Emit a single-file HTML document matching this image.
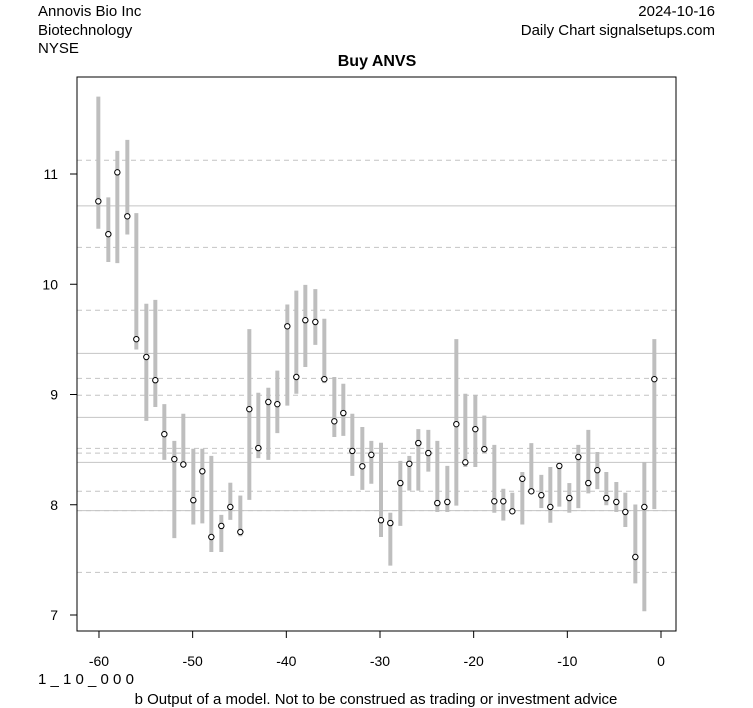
<!DOCTYPE html>
<html><head><meta charset="utf-8"><style>
body{margin:0;background:#fff;}
svg{display:block;font-family:"Liberation Sans",Arial,sans-serif;}
</style></head><body>
<svg id="s" width="753" height="708" viewBox="0 0 753 708" xmlns="http://www.w3.org/2000/svg">
<rect width="753" height="708" fill="#fff"/>
<g font-size="15" fill="#000">
<text x="38" y="16">Annovis Bio Inc</text>
<text x="38" y="35">Biotechnology</text>
<text x="38" y="53">NYSE</text>
<text x="715" y="16" text-anchor="end">2024-10-16</text>
<text x="715" y="35" text-anchor="end">Daily Chart signalsetups.com</text>
<text x="377" y="66" text-anchor="middle" font-weight="bold" font-size="16">Buy ANVS</text>
<text x="38" y="684">1 _ 1 0 _ 0 0 0</text>
<text x="376" y="704" text-anchor="middle">b Output of a model. Not to be construed as trading or investment advice</text>
</g>
<g id="grid"></g>
<g id="bars"></g>
<g id="pts"></g>
<rect x="77" y="77" width="599" height="554" fill="none" stroke="#000" stroke-width="1"/>
<g id="axes" font-size="14"></g>
</svg>
<script>
const NS="http://www.w3.org/2000/svg";
function el(p,t,a,txt){const e=document.createElementNS(NS,t);for(const k in a)e.setAttribute(k,a[k]);if(txt!==undefined)e.textContent=txt;document.getElementById(p).appendChild(e);}
const Y=z=>77+z/2.8;
const dashed=[233,477,653,844,891,1040,1053,1160,1214,1387];
const solid=[361,774,953,1079,1214];
dashed.forEach(z=>el("grid","line",{x1:77,x2:676,y1:Y(z),y2:Y(z),stroke:"#c4c4c4","stroke-dasharray":"5,4"}));
solid.forEach(z=>el("grid","line",{x1:77,x2:676,y1:Y(z),y2:Y(z),stroke:"#c4c4c4"}));
const d1=[[64,348,55,425],[94,440,337,518],[121,267,207,521],[151,390,176,441],[178,734,381,763],[208,784,635,963],[235,849,624,924],[262,1000,916,1072],[292,1070,1019,1291],[319,1085,943,1085],[349,1185,1041,1253],[376,1104,1041,1250],[403,1288,1061,1330],[433,1257,1226,1330],[460,1204,1136,1240],[490,1274,1172,1286],[517,930,706,1184],[544,1039,884,1067],[574,910,870,1072],[601,916,822,997],[631,698,637,920],[658,840,598,887],[685,681,582,812],[715,686,594,750],[742,846,677,857],[772,964,840,1008],[799,941,859,1005],[826,1047,943,1117],[856,1090,980,1156],[883,1058,1019,1139]];
const d2=[[33,1241,1024,1288],[61,1249,1220,1368],[91,1137,1075,1257],[118,1083,1061,1158],[145,1025,986,1158],[175,1053,988,1105],[202,1193,1019,1218],[232,1190,1089,1218],[259,972,734,1200],[286,1079,887,1092],[316,986,890,1092],[343,1042,948,1053],[373,1188,1030,1220],[400,1188,1153,1242],[427,1216,1164,1216],[457,1125,1106,1253],[484,1160,1025,1160],[514,1171,1114,1207],[541,1204,1092,1248],[568,1089,1089,1203],[598,1179,1137,1220],[625,1064,1030,1207],[655,1137,988,1166],[682,1101,1050,1154],[709,1179,1106,1199],[739,1190,1134,1218],[766,1218,1164,1260],[796,1344,1197,1418],[823,1204,1078,1496],[853,846,734,1210]];
const all=d1.map(r=>[77+r[0]/3,...r.slice(1)]).concat(d2.map(r=>[370+r[0]/3,...r.slice(1)]));
all.forEach(([x,c,t,b])=>{
 el("bars","line",{x1:x,x2:x,y1:Y(t),y2:Y(b),stroke:"#bebebe","stroke-width":4});
 el("pts","circle",{cx:x,cy:Y(c),r:2.7,fill:"#fff",stroke:"#000","stroke-width":1});
});
[-60,-50,-40,-30,-20,-10,0].forEach(v=>{const x=661+v*9.367;
 el("axes","line",{x1:x,x2:x,y1:631,y2:638,stroke:"#000"});
 el("axes","text",{x:x,y:666,"text-anchor":"middle"},String(v));});
[7,8,9,10,11].forEach(v=>{const y=174+(11-v)*110.25;
 el("axes","line",{x1:70,x2:77,y1:y,y2:y,stroke:"#000"});
 el("axes","text",{x:58,y:y+5,"text-anchor":"end"},String(v));});
</script>
</body></html>
